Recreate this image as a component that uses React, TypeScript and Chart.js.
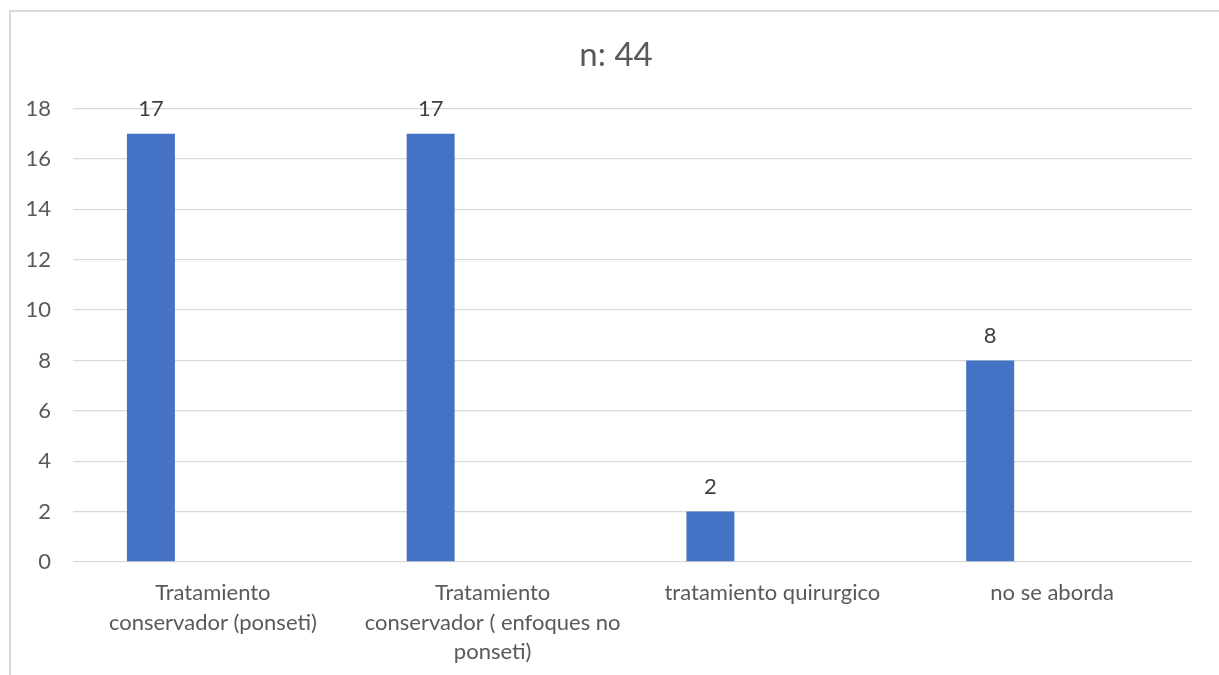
import React, { useEffect, useRef } from "react";
import { Chart, registerables } from "chart.js";

Chart.register(...registerables);

const title = "n: 44";
const categories: string[][] = [
  ["Tratamiento", "conservador (ponseti)"],
  ["Tratamiento", "conservador ( enfoques no", "ponseti)"],
  ["tratamiento quirurgico"],
  ["no se aborda"],
];
const values: number[] = [17, 17, 2, 8];
const emptySeries: (number | null)[] = [null, null, null, null];
const yMin = 0;
const yMax = 18;
const yStep = 2;

const FONT = "Lato, 'Open Sans', sans-serif";

const valueLabels = {
  id: "valueLabels",
  afterDatasetsDraw(chart: any) {
    const ctx = chart.ctx;
    const meta = chart.getDatasetMeta(0);
    ctx.save();
    ctx.font = `22px ${FONT}`;
    ctx.fillStyle = "#404040";
    ctx.textAlign = "center";
    ctx.textBaseline = "middle";
    meta.data.forEach((bar: any, i: number) => {
      const v = chart.data.datasets[0].data[i];
      if (v == null) return;
      ctx.fillText(String(v), bar.x, bar.y - 25);
    });
    ctx.restore();
  },
};

const titlePlugin = {
  id: "customTitle",
  afterDraw(chart: any) {
    const ctx = chart.ctx;
    ctx.save();
    ctx.font = `33px ${FONT}`;
    ctx.fillStyle = "#595959";
    ctx.textAlign = "center";
    ctx.textBaseline = "middle";
    ctx.fillText(title, 616, 55);
    ctx.restore();
  },
};

export default function App() {
  const ref = useRef<HTMLCanvasElement | null>(null);
  useEffect(() => {
    if (!ref.current) return;
    const chart = new Chart(ref.current, {
      type: "bar",
      data: {
        labels: categories,
        datasets: [
          {
            data: values,
            backgroundColor: "#4472c4",
            categoryPercentage: 0.886,
            barPercentage: 0.387,
          },
          {
            data: emptySeries,
            backgroundColor: "#ed7d31",
            categoryPercentage: 0.886,
            barPercentage: 0.387,
          },
        ],
      },
      options: {
        animation: false,
        responsive: false,
        maintainAspectRatio: false,
        layout: { padding: { left: 0, right: 27, top: 108.5, bottom: 0 } },
        plugins: {
          legend: { display: false },
          tooltip: { enabled: false },
          title: { display: false },
        },
        scales: {
          x: {
            grid: { display: false, drawTicks: false },
            border: { display: false },
            ticks: {
              color: "#595959",
              font: { family: FONT, size: 22, lineHeight: 1.35 },
              padding: 16,
              maxRotation: 0,
              autoSkip: false,
            },
            afterFit(scale: any) {
              scale.height = 113;
            },
          },
          y: {
            min: yMin,
            max: yMax,
            grid: { color: "#d9d9d9", lineWidth: 1.3, drawTicks: false },
            border: { display: false },
            ticks: {
              stepSize: yStep,
              color: "#595959",
              font: { family: FONT, size: 22 },
              padding: 22,
            },
            afterFit(scale: any) {
              scale.width = 73;
            },
          },
        },
      },
      plugins: [valueLabels, titlePlugin],
    });
    return () => chart.destroy();
  }, []);

  return (
    <div style={{ position: "absolute", left: 0, top: 0, width: 1219, height: 675, overflow: "hidden", background: "#fff" }}>
      <div
        style={{
          position: "absolute",
          left: 9,
          top: 10,
          width: 1240,
          height: 700,
          border: "2px solid #d9d9d9",
          boxSizing: "border-box",
        }}
      />
      <canvas ref={ref} width={1219} height={675} style={{ position: "absolute", left: 0, top: 0 }} />
    </div>
  );
}
